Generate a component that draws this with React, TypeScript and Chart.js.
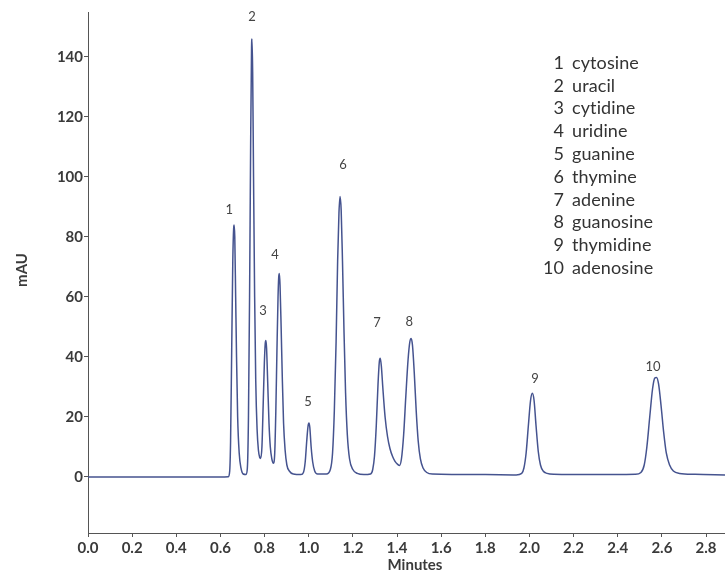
import React, { useEffect, useRef } from "react";
import { Chart, registerables } from "chart.js";

Chart.register(...registerables);

// Retention time (min) and absorbance (mAU)
const retentionTimes = [
  0, 0.3, 0.6, 0.636, 0.642, 0.646, 0.651, 0.656, 0.66, 0.662, 0.665, 0.669, 0.673, 0.678, 0.685, 0.693, 0.703, 0.716,
  0.722, 0.727, 0.732, 0.737, 0.741, 0.743, 0.746, 0.75, 0.755, 0.76, 0.766, 0.772, 0.778, 0.782,
  0.788, 0.794, 0.799, 0.803, 0.806, 0.809, 0.814, 0.82, 0.826, 0.833, 0.84,
  0.846, 0.851, 0.856, 0.861, 0.864, 0.867, 0.87, 0.875, 0.88, 0.886, 0.893, 0.901, 0.912, 0.93,
  0.965, 0.976, 0.984, 0.991, 0.997, 1.001, 1.005, 1.011, 1.018, 1.027, 1.04,
  1.08, 1.098, 1.108, 1.116, 1.124, 1.131, 1.137, 1.142, 1.147, 1.153, 1.16, 1.167, 1.175, 1.185, 1.2, 1.22, 1.25,
  1.28, 1.29, 1.298, 1.306, 1.314, 1.32, 1.324, 1.329, 1.336, 1.346, 1.357, 1.368, 1.38, 1.391, 1.403, 1.411,
  1.42, 1.43, 1.44, 1.45, 1.458, 1.464, 1.47, 1.478, 1.487, 1.496, 1.506, 1.518, 1.535, 1.56,
  1.8, 1.94, 1.965, 1.975, 1.985, 1.995, 2.005, 2.013, 2.021, 2.03, 2.04, 2.05, 2.062, 2.08, 2.11,
  2.3, 2.48, 2.505, 2.52, 2.532, 2.545, 2.558, 2.568, 2.576, 2.585, 2.596, 2.608, 2.62, 2.635, 2.652, 2.68, 2.75, 2.886,
];
const absorbance = [
  0, 0, 0, 0.1, 2, 12, 42, 72, 83, 84, 80, 60, 40, 20, 8, 3, 1, 0.8,
  3, 20, 60, 112, 143, 146, 135, 100, 60, 32, 16, 9, 6.5, 6.2,
  10, 25, 38, 44.5, 45.5, 43, 32, 18, 10, 6, 4.6,
  8, 22, 42, 60, 66.5, 67.8, 64, 50, 34, 18, 9, 4, 2, 1,
  0.8, 1.5, 5, 12, 17, 18, 16.5, 10, 5, 2, 1,
  1, 2.5, 8, 22, 45, 72, 88, 93.5, 89, 72, 48, 28, 14, 6, 2.5, 1.2, 0.8,
  1, 2.5, 7, 17, 31, 38.5, 39.6, 37, 29.5, 20, 13.5, 9.5, 6.8, 5.2, 4.2, 3.8,
  6, 14, 27, 39, 45, 46.2, 44, 35, 22, 12, 6, 3, 1.5, 1,
  0.8, 0.7, 1.2, 3, 8, 17, 25.5, 27.9, 25.5, 17, 8.5, 4, 2, 1.2, 0.9,
  0.8, 0.9, 1.5, 4, 10, 20, 29.5, 33, 33.2, 31, 24, 15, 8, 4, 2, 1.2, 0.9, 0.7,
];

// Peak number labels (anchor in data units)
const peakNumbers = ["1", "2", "3", "4", "5", "6", "7", "8", "9", "10"];
const peakLabelTimes = [0.64, 0.743, 0.793, 0.847, 0.997, 1.155, 1.31, 1.455, 2.025, 2.56];
const peakLabelMAU = [89, 153.3, 55.3, 74, 25, 104, 51.3, 51.7, 32.7, 36.7];

// Compound key
const compoundNumbers = ["1", "2", "3", "4", "5", "6", "7", "8", "9", "10"];
const compoundNames = [
  "cytosine", "uracil", "cytidine", "uridine", "guanine",
  "thymine", "adenine", "guanosine", "thymidine", "adenosine",
];

const xTicks = [0, 0.2, 0.4, 0.6, 0.8, 1.0, 1.2, 1.4, 1.6, 1.8, 2.0, 2.2, 2.4, 2.6, 2.8];
const yTicks = [0, 20, 40, 60, 80, 100, 120, 140];
const xMin = 0;
const xMax = 2.886;
const yMin = -18.67;
const yMax = 155;

const xTitle = "Minutes";
const yTitle = "mAU";

const TEXT = "#3a3a3a";
const AXIS = "#555555";
const LINE = "#45538f";
const FONT = "Lato, 'Open Sans', sans-serif";

export default function App() {
  const ref = useRef<HTMLCanvasElement | null>(null);

  useEffect(() => {
    if (!ref.current) return;
    const points = retentionTimes.map((t, i) => ({ x: t, y: absorbance[i] }));

    const annotate = {
      id: "annotate",
      afterDatasetsDraw(chart: any) {
        const { ctx, scales } = chart;
        const xs = scales.x;
        const ys = scales.y;
        ctx.save();
        // peak labels
        ctx.fillStyle = "#444";
        ctx.font = `13px ${FONT}`;
        ctx.textAlign = "center";
        ctx.textBaseline = "middle";
        peakNumbers.forEach((n, i) => {
          ctx.fillText(n, xs.getPixelForValue(peakLabelTimes[i]), ys.getPixelForValue(peakLabelMAU[i]));
        });
        // compound key
        ctx.fillStyle = "#333";
        ctx.font = `18px ${FONT}`;
        (ctx as any).letterSpacing = "0.1px";
        compoundNumbers.forEach((n, i) => {
          const y = 63 + i * 22.8;
          ctx.textAlign = "right";
          ctx.fillText(n, 564, y);
          ctx.textAlign = "left";
          ctx.fillText(compoundNames[i], 572, y);
        });
        (ctx as any).letterSpacing = "0px";
        // axis titles
        ctx.fillStyle = TEXT;
        ctx.font = `bold 15px ${FONT}`;
        ctx.textAlign = "center";
        ctx.fillText(xTitle, 415, 565);
        ctx.translate(22, 270);
        ctx.rotate(-Math.PI / 2);
        ctx.fillText(yTitle, 0, 0);
        ctx.restore();
      },
    };

    const chart = new Chart(ref.current, {
      type: "line",
      data: {
        datasets: [
          {
            data: points,
            borderColor: LINE,
            borderWidth: 1.5,
            pointRadius: 0,
            fill: false,
            cubicInterpolationMode: "monotone",
          },
        ],
      },
      options: {
        animation: false,
        responsive: false,
        devicePixelRatio: 1,
        layout: { padding: { top: 12, left: 0, right: 0, bottom: 0 } },
        plugins: { legend: { display: false }, tooltip: { enabled: false } },
        scales: {
          x: {
            type: "linear",
            min: xMin,
            max: xMax,
            afterBuildTicks: (s: any) => {
              s.ticks = xTicks.map((v) => ({ value: v }));
            },
            afterFit: (s: any) => {
              s.height = 41;
            },
            ticks: {
              color: TEXT,
              font: { family: FONT, size: 15, weight: "bold" },
              padding: 2,
              maxRotation: 0,
              autoSkip: false,
              callback: (v: any) => Number(v).toFixed(1),
            },
            grid: { drawOnChartArea: false, drawTicks: true, tickLength: 4, color: AXIS },
            border: { display: true, color: AXIS, width: 1 },
          },
          y: {
            type: "linear",
            min: yMin,
            max: yMax,
            afterBuildTicks: (s: any) => {
              s.ticks = yTicks.map((v) => ({ value: v }));
            },
            afterFit: (s: any) => {
              s.width = 88;
            },
            ticks: {
              color: TEXT,
              font: { family: FONT, size: 15, weight: "bold" },
              padding: 1,
              callback: (v: any) => String(v),
            },
            grid: { drawOnChartArea: false, drawTicks: true, tickLength: 4, color: AXIS },
            border: { display: true, color: AXIS, width: 1 },
          },
        },
      },
      plugins: [annotate],
    } as any);

    return () => chart.destroy();
  }, []);

  return (
    <div style={{ position: "absolute", left: 0, top: 0, width: 725, height: 574, background: "#fff" }}>
      <canvas ref={ref} width={725} height={574} />
    </div>
  );
}
